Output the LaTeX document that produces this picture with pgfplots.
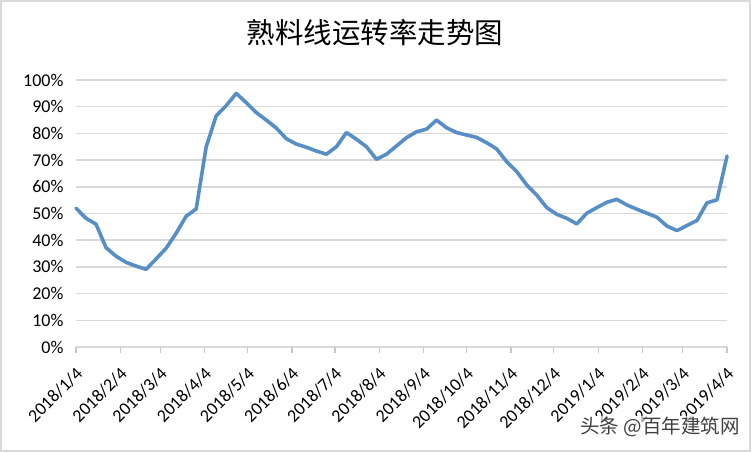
\documentclass[border=0pt]{standalone}
\usepackage{pgfplots}
\pgfplotsset{compat=1.18}
\usepackage{fontspec}
\setmainfont{Carlito}
\newfontfamily\cjk{Noto Sans CJK SC}
\definecolor{linecol}{RGB}{88,142,198}
\definecolor{gridcol}{RGB}{217,217,217}
\definecolor{axcol}{RGB}{200,200,200}
\begin{document}
\begin{tikzpicture}[x=1bp,y=1bp]
\useasboundingbox (0,0) rectangle (752,452);
\draw[gridcol, line width=1.5bp] (1,1) rectangle (750,451);
\begin{axis}[
  at={(76bp,105bp)}, anchor=south west,
  scale only axis, width=651bp, height=267bp,
  xmin=0, xmax=455, ymin=0, ymax=100,
  clip=false,
  axis line style={draw=none},
  ymajorgrids, grid style={gridcol, line width=1.5bp},
  ytick={0,10,...,100},
  yticklabels={0\%,10\%,20\%,30\%,40\%,50\%,60\%,70\%,80\%,90\%,100\%},
  ytick style={draw=none},
  yticklabel style={xshift=-3bp},
  xtick={0,31,59,90,120,151,181,212,243,273,304,334,365,396,424,455},
  xticklabels={2018/1/4,2018/2/4,2018/3/4,2018/4/4,2018/5/4,2018/6/4,2018/7/4,2018/8/4,2018/9/4,2018/10/4,2018/11/4,2018/12/4,2019/1/4,2019/2/4,2019/3/4,2019/4/4},
  xtick pos=bottom, tick align=outside,
  major tick length=6bp,
  xtick style={axcol, line width=1.2bp},
  tick label style={font=\fontsize{18bp}{21bp}\selectfont, black},
  xticklabel style={xshift=5bp, yshift=-16bp, rotate=45, anchor=east, inner sep=2bp},
  /pgf/number format/assume math mode=true,
]
\addplot[linecol, line width=3.6bp, line join=round, line cap=round] coordinates {
(0,52)(7,48.2)(14,46)(21,37.2)(28,34)(35,31.7)(42,30.3)(49,29.1)(56,33)(63,37)(70,42.6)(77,49)(84,51.7)(91,75)(98,86.6)(105,90.4)(112,95)(119,91.5)(126,87.8)(133,85)(140,82)(147,78)(154,76)(161,74.8)(168,73.4)(175,72.2)(182,75)(189,80.3)(196,77.8)(203,75)(210,70.3)(217,72.2)(224,75.3)(231,78.4)(238,80.6)(245,81.6)(252,85)(259,82.1)(266,80.3)(273,79.4)(280,78.5)(287,76.5)(294,74.2)(301,69.4)(308,65.7)(315,60.7)(322,56.9)(329,52.2)(336,49.7)(343,48.2)(350,46.1)(357,50.1)(364,52.2)(371,54.2)(378,55.3)(385,53.2)(392,51.6)(399,50.1)(406,48.6)(413,45.3)(420,43.6)(427,45.5)(434,47.4)(441,54)(448,55.1)(455,71.5)
};
\end{axis}
\node[font=\cjk\fontsize{28.5bp}{32bp}\selectfont, black] at (375,419) {熟料线运转率走势图};
\node[font=\cjk\fontsize{19.5bp}{22bp}\selectfont, text=black!75, fill=white, fill opacity=0.6, text opacity=1, inner sep=1bp] at (660,25) {头条 @百年建筑网};
\end{tikzpicture}
\end{document}
